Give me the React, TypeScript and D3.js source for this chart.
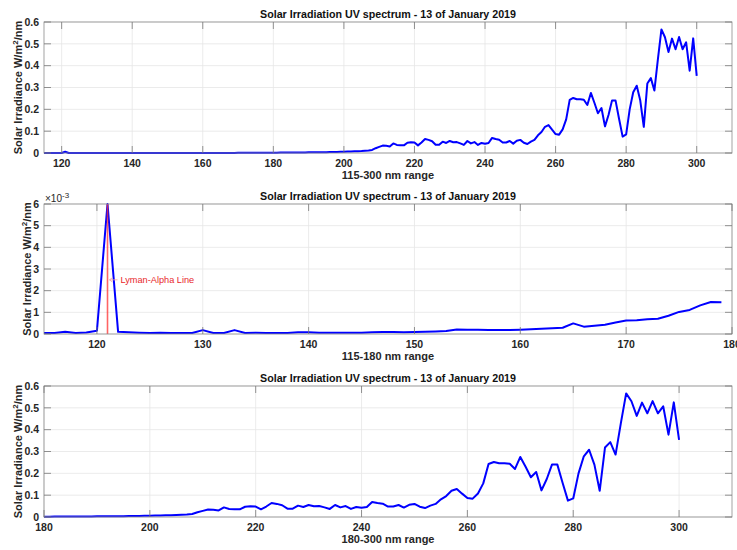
import React from "react";
import * as d3 from "d3";

// wavelength grid (nm) and measured irradiance (W/m^2/nm)
const wavelengths = [
  115, 116, 117, 118, 119, 120, 121, 122, 123, 124,
  125, 126, 127, 128, 129, 130, 131, 132, 133, 134,
  135, 136, 137, 138, 139, 140, 141, 142, 143, 144,
  145, 146, 147, 148, 149, 150, 151, 152, 153, 154,
  155, 156, 157, 158, 159, 160, 161, 162, 163, 164,
  165, 166, 167, 168, 169, 170, 171, 172, 173, 174,
  175, 176, 177, 178, 179, 180, 181, 182, 183, 184,
  185, 186, 187, 188, 189, 190, 191, 192, 193, 194,
  195, 196, 197, 198, 199, 200, 201, 202, 203, 204,
  205, 206, 207, 208, 209, 210, 211, 212, 213, 214,
  215, 216, 217, 218, 219, 220, 221, 222, 223, 224,
  225, 226, 227, 228, 229, 230, 231, 232, 233, 234,
  235, 236, 237, 238, 239, 240, 241, 242, 243, 244,
  245, 246, 247, 248, 249, 250, 251, 252, 253, 254,
  255, 256, 257, 258, 259, 260, 261, 262, 263, 264,
  265, 266, 267, 268, 269, 270, 271, 272, 273, 274,
  275, 276, 277, 278, 279, 280, 281, 282, 283, 284,
  285, 286, 287, 288, 289, 290, 291, 292, 293, 294,
  295, 296, 297, 298, 299, 300,
];

const irradiance = [
  0.00005, 0.00005, 0.0001, 0.00005, 0.00007, 0.00015, 0.006, 0.0001, 0.00008, 0.00006,
  0.00005, 0.00006, 0.00005, 0.00005, 0.00005, 0.00018, 0.00005, 0.00005, 0.00018, 0.00005,
  0.00006, 0.00005, 0.00005, 0.00005, 0.00008, 0.00008, 0.00006, 0.00006, 0.00006, 0.00006,
  0.00006, 0.00008, 0.00009, 0.00009, 0.00008, 0.00009, 0.0001, 0.00012, 0.00014, 0.00021,
  0.0002, 0.0002, 0.00018, 0.00018, 0.00018, 0.0002, 0.00022, 0.00024, 0.00026, 0.00029,
  0.00049, 0.00034, 0.00038, 0.00043, 0.00053, 0.00062, 0.00063, 0.00068, 0.0007, 0.00084,
  0.00102, 0.00111, 0.00132, 0.00148, 0.00147, 0.0016, 0.0017, 0.0018, 0.0019, 0.002,
  0.0021, 0.0022, 0.0024, 0.0025, 0.0027, 0.0029, 0.003, 0.0032, 0.0033, 0.0038,
  0.004, 0.0045, 0.0048, 0.005, 0.0055, 0.006, 0.0065, 0.007, 0.0078, 0.0085,
  0.009, 0.01, 0.011, 0.014, 0.022, 0.028, 0.034, 0.033, 0.03, 0.044,
  0.037, 0.035, 0.035, 0.047, 0.049, 0.048, 0.035, 0.048, 0.064, 0.06,
  0.054, 0.038, 0.038, 0.052, 0.046, 0.055, 0.049, 0.05, 0.044, 0.037,
  0.055, 0.044, 0.05, 0.037, 0.046, 0.042, 0.046, 0.069, 0.064, 0.061,
  0.048, 0.048, 0.055, 0.043, 0.056, 0.06, 0.047, 0.041, 0.052, 0.06,
  0.081, 0.096, 0.12, 0.128, 0.107, 0.087, 0.084, 0.108, 0.154, 0.243,
  0.252, 0.246, 0.246, 0.244, 0.22, 0.275, 0.23, 0.182, 0.206, 0.122,
  0.174, 0.241, 0.24, 0.156, 0.075, 0.085, 0.2, 0.278, 0.308, 0.24,
  0.12, 0.318, 0.343, 0.286, 0.43, 0.566, 0.53, 0.463, 0.524, 0.475,
  0.531, 0.475, 0.507, 0.377, 0.525, 0.353,
];

const titleText = "Solar Irradiation UV spectrum - 13 of January 2019";
const xLabels = ["115-300 nm range", "115-180 nm range", "180-300 nm range"];

const topXTicks = [120, 140, 160, 180, 200, 220, 240, 260, 280, 300];
const midXTicks = [120, 130, 140, 150, 160, 170, 180];
const botXTicks = [180, 200, 220, 240, 260, 280, 300];
const wideYTicks = [0, 0.1, 0.2, 0.3, 0.4, 0.5, 0.6];
const midYTicks = [0, 0.001, 0.002, 0.003, 0.004, 0.005, 0.006];

const lymanAlpha = 121;
const lymanLabel = "Lyman-Alpha Line";
const lymanLabelLevel = 0.0025;

const font = "'Liberation Sans', Arial, Helvetica, sans-serif";
const left = 44;
const right = 732;

type Pt = { w: number; v: number };
const allPoints: Pt[] = wavelengths.map((w, i) => ({ w, v: irradiance[i] }));

interface PanelProps {
  top: number;
  bottom: number;
  xDomain: [number, number];
  yDomain: [number, number];
  xTicks: number[];
  yTicks: number[];
  yFmt: (v: number) => string;
  xLabel: string;
  yLabelX: number;
  points: Pt[];
  exponent?: boolean;
  lyman?: boolean;
}

const Panel: React.FC<PanelProps> = ({
  top, bottom, xDomain, yDomain, xTicks, yTicks, yFmt, xLabel, yLabelX, points, exponent, lyman,
}) => {
  const x = d3.scaleLinear().domain(xDomain).range([left, right]);
  const y = d3.scaleLinear().domain(yDomain).range([bottom, top]);
  const line = d3.line<Pt>().x(d => x(d.w)).y(d => y(d.v));
  const tickLen = 7;
  const midX = (left + right) / 2;
  const midY = (top + bottom) / 2;

  return (
    <g fontFamily={font}>
      <rect x={left} y={top} width={right - left} height={bottom - top} fill="#fff" />
      {/* grid */}
      {xTicks.map(t => (
        <line key={"gx" + t} x1={x(t)} x2={x(t)} y1={top} y2={bottom} stroke="#e6e6e6" strokeWidth={0.8} />
      ))}
      {yTicks.map(t => (
        <line key={"gy" + t} x1={left} x2={right} y1={y(t)} y2={y(t)} stroke="#e6e6e6" strokeWidth={0.8} />
      ))}
      {/* data */}
      <path d={line(points) ?? ""} fill="none" stroke="#0000ff" strokeWidth={2} strokeLinejoin="round" />
      {lyman && (
        <g>
          <line x1={x(lymanAlpha)} x2={x(lymanAlpha)} y1={y(0)} y2={y(yDomain[1])}
            stroke="#ff3030" strokeOpacity={0.75} strokeWidth={1.6} />
          <line x1={x(lymanAlpha) + 2} x2={x(lymanAlpha) + 10} y1={y(lymanLabelLevel)} y2={y(lymanLabelLevel)}
            stroke="#f5a0a0" strokeWidth={0.8} />
          <path d={`M${x(lymanAlpha) + 2},${y(lymanLabelLevel)} l3,-2.2 M${x(lymanAlpha) + 2},${y(lymanLabelLevel)} l3,2.2`}
            stroke="#f5a0a0" strokeWidth={0.8} fill="none" />
          <text x={x(lymanAlpha) + 13} y={y(lymanLabelLevel) + 3.3} fontSize={9.2} fill="#e8262b">{lymanLabel}</text>
        </g>
      )}
      {/* box */}
      <rect x={left} y={top} width={right - left} height={bottom - top} fill="none" stroke="#8c8c8c" strokeWidth={0.8} />
      {/* ticks */}
      {xTicks.map(t => (
        <g key={"tx" + t}>
          <line x1={x(t)} x2={x(t)} y1={bottom} y2={bottom - tickLen} stroke="#777" strokeWidth={0.8} />
          <line x1={x(t)} x2={x(t)} y1={top} y2={top + tickLen} stroke="#777" strokeWidth={0.8} />
          <text x={x(t)} y={bottom + 14} textAnchor="middle" fontSize={10.5} fontWeight="bold" fill="#262626">{t}</text>
        </g>
      ))}
      {yTicks.map(t => (
        <g key={"ty" + t}>
          <line x1={left} x2={left + tickLen} y1={y(t)} y2={y(t)} stroke="#777" strokeWidth={0.8} />
          <line x1={right} x2={right - tickLen} y1={y(t)} y2={y(t)} stroke="#777" strokeWidth={0.8} />
          <text x={left - 5} y={y(t) + 3.8} textAnchor="end" fontSize={10.5} fontWeight="bold" fill="#262626">{yFmt(t)}</text>
        </g>
      ))}
      {exponent && (
        <text x={left + 1} y={top - 2} fontSize={10} fill="#262626">
          ×10<tspan dy={-4} fontSize={8}>-3</tspan>
        </text>
      )}
      <text x={midX} y={top - 4} textAnchor="middle" fontSize={10.7} fontWeight="bold" fill="#111">{titleText}</text>
      <text x={midX} y={bottom + 26} textAnchor="middle" fontSize={11} fontWeight="bold" fill="#262626">{xLabel}</text>
      <text transform={`translate(${yLabelX},${midY}) rotate(-90)`} textAnchor="middle" fontSize={11} fontWeight="bold" fill="#262626">
        Solar Irradiance W/m<tspan dy={-4} fontSize={8}>2</tspan><tspan dy={4}>/nm</tspan>
      </text>
    </g>
  );
};

const fmtWide = d3.format(".1f");
const fmtMilli = (v: number) => d3.format("d")(Math.round(v * 1000));

export default function App() {
  const midPoints = allPoints.filter(p => p.w <= 179);
  const botPoints = allPoints.filter(p => p.w >= 180);
  return (
    <svg width={737} height={550} style={{ position: "absolute", left: 0, top: 0, background: "#fff" }}>
      <Panel top={22} bottom={153} xDomain={[115, 310]} yDomain={[0, 0.6]} xTicks={topXTicks} yTicks={wideYTicks}
        yFmt={v => (v === 0 ? "0" : fmtWide(v))} xLabel={xLabels[0]} yLabelX={22} points={allPoints} />
      <Panel top={204} bottom={334} xDomain={[115, 180]} yDomain={[0, 0.006]} xTicks={midXTicks} yTicks={midYTicks}
        yFmt={fmtMilli} xLabel={xLabels[1]} yLabelX={31} points={midPoints} exponent lyman />
      <Panel top={386} bottom={517} xDomain={[180, 310]} yDomain={[0, 0.6]} xTicks={botXTicks} yTicks={wideYTicks}
        yFmt={v => (v === 0 ? "0" : fmtWide(v))} xLabel={xLabels[2]} yLabelX={22} points={botPoints} />
    </svg>
  );
}
